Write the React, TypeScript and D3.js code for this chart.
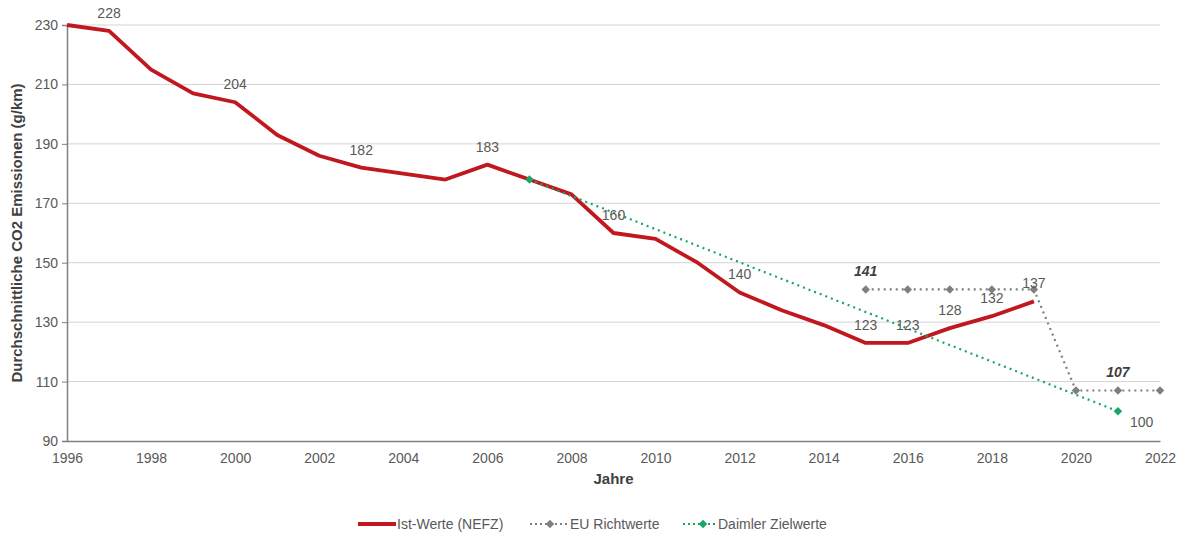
import { useEffect, useRef } from 'react';
import * as d3 from 'd3';

const years = [1996, 1997, 1998, 1999, 2000, 2001, 2002, 2003, 2004, 2005, 2006, 2007, 2008, 2009, 2010, 2011, 2012, 2013, 2014, 2015, 2016, 2017, 2018, 2019];
const istValues = [230, 228, 215, 207, 204, 193, 186, 182, 180, 178, 183, 178, 173, 160, 158, 150, 140, 134, 129, 123, 123, 128, 132, 137];
// years whose value gets a label
const istLabelYears = [1997, 2000, 2003, 2006, 2009, 2012, 2015, 2016, 2017, 2018, 2019];

const euYears = [2015, 2016, 2017, 2018, 2019, 2020, 2021, 2022];
const euValues = [141, 141, 141, 141, 141, 107, 107, 107];
const euLabelYears = [2015, 2021];

const daimlerYears = [2007, 2021];
const daimlerValues = [178, 100];

const yTicks = [90, 110, 130, 150, 170, 190, 210, 230];
const xTicks = [1996, 1998, 2000, 2002, 2004, 2006, 2008, 2010, 2012, 2014, 2016, 2018, 2020, 2022];

const legendItems = ['Ist-Werte (NEFZ)', 'EU Richtwerte', 'Daimler Zielwerte'];

export default function App() {
  const svgRef = useRef<SVGSVGElement>(null);

  useEffect(() => {
    if (!svgRef.current) return;
    const svg = d3.select(svgRef.current);
    svg.selectAll('*').remove();

    const W = 1180, H = 536;
    const margin = { top: 25, right: 20, bottom: 95, left: 67 };
    const font = '"Liberation Sans", Arial, sans-serif';
    const textCol = '#595959';
    const red = '#c0181e', gray = '#7f7f7f', green = '#1aa46a';

    svg.attr('width', W).attr('height', H).style('font-family', font);

    const x = d3.scaleLinear().domain([1996, 2022]).range([margin.left, W - margin.right]);
    const y = d3.scaleLinear().domain([90, 230]).range([H - margin.bottom, margin.top]);

    // gridlines
    svg.append('g')
      .selectAll('line')
      .data(yTicks.slice(1))
      .join('line')
      .attr('x1', x(1996)).attr('x2', x(2022))
      .attr('y1', d => y(d)).attr('y2', d => y(d))
      .attr('stroke', '#d4d4d4').attr('stroke-width', 1);

    // y axis
    const yAxis = svg.append('g')
      .attr('transform', `translate(${x(1996)},0)`)
      .call(d3.axisLeft(y).tickValues(yTicks).tickSize(5).tickPadding(4));
    yAxis.select('.domain').attr('stroke', '#808080').attr('stroke-width', 1.5);
    yAxis.selectAll('.tick line').attr('stroke', '#808080');
    yAxis.selectAll('.tick text').attr('fill', textCol).style('font-size', '14px').style('font-family', font);

    // x axis
    const xAxis = svg.append('g')
      .attr('transform', `translate(0,${y(90)})`)
      .call(d3.axisBottom(x).tickValues(xTicks).tickFormat(d3.format('d')).tickSize(0).tickPadding(12));
    xAxis.select('.domain').attr('stroke', '#808080').attr('stroke-width', 1.5);
    xAxis.selectAll('.tick text').attr('fill', textCol).style('font-size', '14px').style('font-family', font);

    // axis titles
    svg.append('text')
      .attr('transform', `translate(22,${(y(90) + y(230)) / 2}) rotate(-90)`)
      .attr('text-anchor', 'middle')
      .attr('fill', '#404040')
      .style('font-size', '15px').style('font-weight', 'bold')
      .text('Durchschnittliche CO2 Emissionen (g/km)');
    svg.append('text')
      .attr('x', (x(1996) + x(2022)) / 2).attr('y', y(90) + 43)
      .attr('text-anchor', 'middle')
      .attr('fill', '#404040')
      .style('font-size', '15px').style('font-weight', 'bold')
      .text('Jahre');

    const line = d3.line<[number, number]>().x(d => x(d[0])).y(d => y(d[1]));
    const diamond = d3.symbol().type(d3.symbolSquare).size(36);

    const euData = euYears.map((yr, i) => [yr, euValues[i]] as [number, number]);
    const daimlerData = daimlerYears.map((yr, i) => [yr, daimlerValues[i]] as [number, number]);
    const istData = years.map((yr, i) => [yr, istValues[i]] as [number, number]);

    // EU series
    svg.append('path')
      .datum(euData)
      .attr('d', line)
      .attr('fill', 'none')
      .attr('stroke', gray).attr('stroke-width', 2.2)
      .attr('stroke-dasharray', '2,4');
    svg.append('g').selectAll('path')
      .data(euData)
      .join('path')
      .attr('d', diamond)
      .attr('transform', d => `translate(${x(d[0])},${y(d[1])}) rotate(45)`)
      .attr('fill', gray);

    // Ist series
    svg.append('path')
      .datum(istData)
      .attr('d', line)
      .attr('fill', 'none')
      .attr('stroke', red).attr('stroke-width', 3.8)
      .attr('stroke-linejoin', 'round');

    // Daimler series (on top)
    svg.append('path')
      .datum(daimlerData)
      .attr('d', line)
      .attr('fill', 'none')
      .attr('stroke', green).attr('stroke-width', 2.2)
      .attr('stroke-dasharray', '2,4');
    svg.append('g').selectAll('path')
      .data(daimlerData)
      .join('path')
      .attr('d', diamond)
      .attr('transform', d => `translate(${x(d[0])},${y(d[1])}) rotate(45)`)
      .attr('fill', green);

    // labels
    svg.append('g').selectAll('text')
      .data(istData.filter(d => istLabelYears.includes(d[0])))
      .join('text')
      .attr('x', d => x(d[0])).attr('y', d => y(d[1]) - 13)
      .attr('text-anchor', 'middle')
      .attr('fill', textCol)
      .style('font-size', '14px')
      .text(d => d[1]);

    svg.append('g').selectAll('text')
      .data(euData.filter(d => euLabelYears.includes(d[0])))
      .join('text')
      .attr('x', d => x(d[0])).attr('y', d => y(d[1]) - 13)
      .attr('text-anchor', 'middle')
      .attr('fill', '#404040')
      .style('font-size', '14px').style('font-weight', 'bold').style('font-style', 'italic')
      .text(d => d[1]);

    const last = daimlerData[daimlerData.length - 1];
    svg.append('text')
      .attr('x', x(last[0]) + 12).attr('y', y(last[1]) + 16)
      .attr('fill', textCol)
      .style('font-size', '14px')
      .text(last[1]);

    // legend
    const ly = 524;
    const lg = svg.append('g');
    lg.append('line').attr('x1', 358).attr('x2', 396).attr('y1', ly).attr('y2', ly)
      .attr('stroke', red).attr('stroke-width', 3.8);
    lg.append('text').attr('x', 397).attr('y', ly + 5).attr('fill', textCol)
      .style('font-size', '14px').text(legendItems[0]);

    lg.append('line').attr('x1', 530).attr('x2', 569).attr('y1', ly).attr('y2', ly)
      .attr('stroke', gray).attr('stroke-width', 2).attr('stroke-dasharray', '2,3');
    lg.append('path').attr('d', diamond).attr('transform', `translate(550,${ly}) rotate(45)`).attr('fill', gray);
    lg.append('text').attr('x', 570).attr('y', ly + 5).attr('fill', textCol)
      .style('font-size', '14px').text(legendItems[1]);

    lg.append('line').attr('x1', 683).attr('x2', 716).attr('y1', ly).attr('y2', ly)
      .attr('stroke', green).attr('stroke-width', 2).attr('stroke-dasharray', '2,3');
    lg.append('path').attr('d', diamond).attr('transform', `translate(703,${ly}) rotate(45)`).attr('fill', green);
    lg.append('text').attr('x', 718).attr('y', ly + 5).attr('fill', textCol)
      .style('font-size', '14px').text(legendItems[2]);
  }, []);

  return (
    <div style={{ position: 'absolute', left: 0, top: 0 }}>
      <svg ref={svgRef}></svg>
    </div>
  );
}
